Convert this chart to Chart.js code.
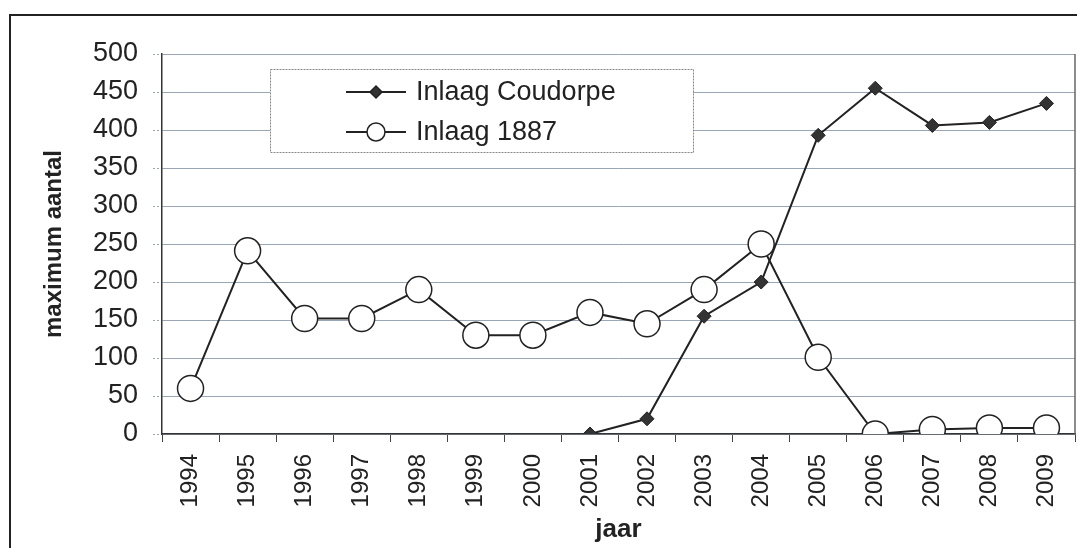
<!DOCTYPE html>
<html>
<head>
<meta charset="utf-8">
<script src="https://cdn.jsdelivr.net/npm/chart.js@4.4.1/dist/chart.umd.min.js"></script>
<style>
  html, body { margin: 0; padding: 0; background: #fff; }
  #wrap { width: 1077px; height: 548px; position: relative; }
</style>
</head>
<body>
<div id="wrap"><canvas id="chart" width="1077" height="548"></canvas></div>
<script>
const jaren = ['1994', '1995', '1996', '1997', '1998', '1999', '2000', '2001',
               '2002', '2003', '2004', '2005', '2006', '2007', '2008', '2009'];
const coudorpe = [null, null, null, null, null, null, null, 0,
                  20, 155, 200, 393, 455, 406, 410, 435];
const inlaag1887 = [60, 241, 152, 152, 190, 130, 130, 160,
                    145, 190, 250, 101, 0, 6, 8, 8];
const yTicks = [0, 50, 100, 150, 200, 250, 300, 350, 400, 450, 500];

const FONT = '"Liberation Sans", Arial, sans-serif';
const gridKleur = '#98a6b5';

// frame round the figure, right edge of plot area and the legend box
const framePlugin = {
    id: 'frame',
    beforeDraw(chart) {
        const ctx = chart.ctx;
        ctx.save();
        ctx.fillStyle = '#fff';
        ctx.fillRect(0, 0, chart.width, chart.height);
        ctx.strokeStyle = '#222';
        ctx.lineWidth = 2;
        ctx.beginPath();
        ctx.moveTo(10, chart.height);
        ctx.lineTo(10, 15);
        ctx.lineTo(chart.width, 15);
        ctx.stroke();
        ctx.restore();
    },
    afterDatasetsDraw(chart) {
        const ctx = chart.ctx;
        const a = chart.chartArea;
        ctx.save();
        ctx.strokeStyle = '#666';
        ctx.lineWidth = 1.5;
        ctx.beginPath();
        ctx.moveTo(a.right, a.top);
        ctx.lineTo(a.right, a.bottom);
        ctx.stroke();

        // legend box
        const bx = 270, by = 69, bw = 423, bh = 83;
        ctx.fillStyle = '#fff';
        ctx.fillRect(bx, by, bw, bh);
        ctx.strokeStyle = '#888';
        ctx.lineWidth = 1;
        ctx.setLineDash([2, 1]);
        ctx.strokeRect(bx + 0.5, by + 0.5, bw, bh);
        ctx.setLineDash([]);

        const rows = [92, 132];
        chart.data.datasets.forEach((ds, i) => {
            const y = rows[i];
            ctx.strokeStyle = '#222';
            ctx.lineWidth = 2;
            ctx.beginPath();
            ctx.moveTo(346, y);
            ctx.lineTo(406, y);
            ctx.stroke();
            ctx.fillStyle = ds.pointBackgroundColor;
            ctx.strokeStyle = '#222';
            ctx.lineWidth = 1.5;
            ctx.beginPath();
            if (i === 0) {
                ctx.moveTo(376, y - 6); ctx.lineTo(382, y); ctx.lineTo(376, y + 6); ctx.lineTo(370, y);
                ctx.closePath();
            } else {
                ctx.arc(376, y, 9, 0, Math.PI * 2);
            }
            ctx.fill();
            ctx.stroke();
            ctx.fillStyle = '#222';
            ctx.font = '27px ' + FONT;
            ctx.textBaseline = 'middle';
            ctx.textAlign = 'left';
            ctx.fillText(ds.label, 416, y + 1);
        });
        ctx.restore();
    }
};

new Chart(document.getElementById('chart'), {
    type: 'line',
    data: {
        labels: jaren,
        datasets: [
            {
                label: 'Inlaag Coudorpe',
                data: coudorpe,
                borderColor: '#222',
                borderWidth: 2,
                pointStyle: 'rectRot',
                pointRadius: 7,
                pointBackgroundColor: '#333',
                pointBorderColor: '#222',
                pointBorderWidth: 1,
                tension: 0,
                spanGaps: false
            },
            {
                label: 'Inlaag 1887',
                data: inlaag1887,
                borderColor: '#222',
                borderWidth: 2,
                pointStyle: 'circle',
                pointRadius: 13,
                pointBackgroundColor: '#fff',
                pointBorderColor: '#222',
                pointBorderWidth: 1.5,
                tension: 0
            }
        ]
    },
    options: {
        responsive: false,
        animation: false,
        events: [],
        layout: { autoPadding: false, padding: { left: 0, top: 54, right: 2, bottom: 0 } },
        plugins: {
            legend: { display: false },
            tooltip: { enabled: false }
        },
        scales: {
            x: {
                offset: true,
                grid: {
                    offset: true,
                    drawOnChartArea: false,
                    drawTicks: true,
                    tickLength: 8,
                    color: '#444',
                    lineWidth: 1
                },
                border: { color: '#333', width: 1.5 },
                ticks: {
                    color: '#222',
                    font: { family: FONT, size: 24 },
                    minRotation: 90,
                    maxRotation: 90,
                    autoSkip: false,
                    padding: 12
                },
                title: {
                    display: true,
                    text: 'jaar',
                    color: '#222',
                    font: { family: FONT, size: 26, weight: 'bold' },
                    padding: { top: 0, bottom: 3 }
                },
                afterFit(scale) {
                    scale.height = 114;
                    scale.paddingLeft = 0;
                    scale.paddingRight = 0;
                }
            },
            y: {
                min: 0,
                max: 500,
                afterBuildTicks(scale) { scale.ticks = yTicks.map(v => ({ value: v })); },
                grid: {
                    color: gridKleur,
                    lineWidth: 1,
                    borderDash: [2, 2],
                    tickBorderDash: [2, 2],
                    tickLength: 9,
                    tickColor: gridKleur
                },
                border: { color: '#333', width: 1.5 },
                ticks: {
                    color: '#222',
                    font: { family: FONT, size: 27 },
                    padding: 15
                },
                title: {
                    display: true,
                    text: 'maximum aantal',
                    color: '#222',
                    font: { family: FONT, size: 24, weight: 'bold' },
                    padding: { top: 40, bottom: 0 }
                },
                afterFit(scale) {
                    scale.width = 162;
                    scale.paddingTop = 0;
                    scale.paddingBottom = 0;
                }
            }
        }
    },
    plugins: [framePlugin]
});
</script>
</body>
</html>
